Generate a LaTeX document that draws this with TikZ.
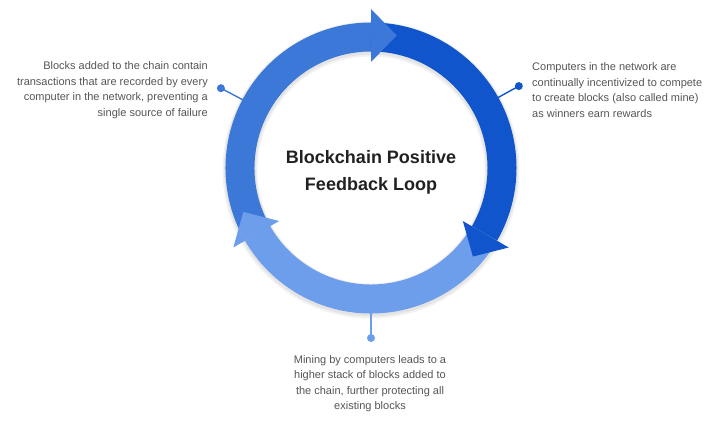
\documentclass[tikz,border=0pt]{standalone}
\usepackage{fontspec}
\setmainfont{Liberation Sans}
\usetikzlibrary{calc}
\definecolor{cmed}{HTML}{3C78D8}
\definecolor{cdark}{HTML}{1155CC}
\definecolor{clight}{HTML}{6D9EEB}
\definecolor{ctext}{HTML}{555555}
\definecolor{ctitle}{HTML}{212121}
\tikzset{
  ringseg/.style={line width=29pt},
  dotnode/.style={circle, inner sep=0pt, minimum size=8pt},
  desc/.style={text=ctext, font=\fontsize{11}{15.5}\selectfont, inner sep=0pt},
  conn/.style={line width=1.4pt},
}
\begin{document}
\begin{tikzpicture}[x=1pt,y=1pt]
\useasboundingbox (0,0) rectangle (727,428);
\coordinate (C) at (371,260);
% soft shadow
\draw[line width=35pt, black, opacity=0.05] ($(C)+(0,-2)$) circle[radius=131];
\draw[line width=32pt, black, opacity=0.06] ($(C)+(0,-1.5)$) circle[radius=131];
% ring bodies
\draw[ringseg, cmed] ($(C)+(210:131)$) arc[start angle=210, end angle=90, radius=131];
\draw[ringseg, cdark] ($(C)+(90:131)$) arc[start angle=90, end angle=-30, radius=131];
\draw[ringseg, clight] ($(C)+(-30:131)$) arc[start angle=-30, end angle=-150, radius=131];
% connectors
\node[dotnode, fill=cmed] (dl) at ($(C)+(152:170)$) {};
\node[dotnode, fill=cdark] (dr) at ($(C)+(29:169)$) {};
\node[dotnode, fill=clight] (db) at ($(C)+(-90:170)$) {};
\coordinate (rl) at ($(C)+(152:142)$);
\coordinate (rr) at ($(C)+(29:142)$);
\coordinate (rb) at ($(C)+(-90:142)$);
\draw[conn, cmed] (dl.center) -- (rl);
\draw[conn, cdark] (dr.center) -- (rr);
\draw[conn, clight] (db.center) -- (rb);
% arrow heads
\fill[cmed] ($(C)+(90:106)$) -- ($(C)+(90:159)$) -- ($(C)+(79.0:135)$) -- cycle;
\fill[cdark] ($(C)+(-30:106)$) -- ($(C)+(-30:159)$) -- ($(C)+(-41.0:135)$) -- cycle;
\fill[clight] ($(C)+(210:106)$) -- ($(C)+(210:159)$) -- ($(C)+(199.0:135)$) -- cycle;
% title
\node[text=ctitle, font=\fontsize{18}{27}\selectfont\bfseries, align=center, inner sep=0pt] (title) at ($(C)+(0,-4)$) {Blockchain Positive\\Feedback Loop};
% descriptions
\node[desc, anchor=east, align=right] (tl) at (208,338) {Blocks added to the chain contain\\transactions that are recorded by every\\computer in the network, preventing a\\single source of failure};
\node[desc, anchor=west, align=left] (tr) at (532,338) {Computers in the network are\\continually incentivized to compete\\to create blocks (also called mine)\\as winners earn rewards};
\node[desc, anchor=north, align=center] (tb) at (370,73) {Mining by computers leads to a\\higher stack of blocks added to\\the chain, further protecting all\\existing blocks};
\end{tikzpicture}
\end{document}
